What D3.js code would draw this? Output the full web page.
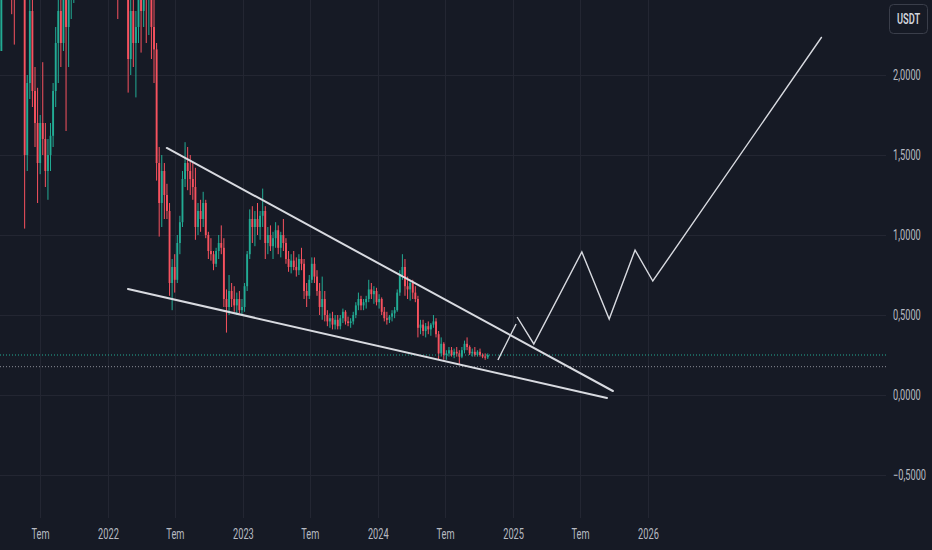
<!DOCTYPE html>
<html><head><meta charset="utf-8">
<script src="https://cdn.jsdelivr.net/npm/d3@7"></script>
<style>
html,body{margin:0;padding:0;background:#161a25;overflow:hidden}
svg{display:block}
</style></head>
<body>
<svg id="c" width="932" height="550"></svg>
<script>
// ---------- DATA ----------
// weekly candles, first week starting 2021-03-08; open = previous close
const firstWeek = "2021-03-08";
const firstOpen = 2.45;
const closes = [2.15,2.5,2.85,3.0,2.9,2.6,2.5,2.85,3.1,3.0,
1.5,1.95,2.4,1.9,1.7,1.45,1.7,1.6,1.4,1.5,
1.62,1.9,2.2,2.4,2.2,2.6,2.3,2.55,2.7,2.9,
3.2,3.4,3.5,3.1,3.3,3.7,3.6,3.2,3.0,3.1,
2.9,2.8,2.7,2.8,2.75,2.6,2.55,2.8,2.7,2.6,
2.1,2.4,2.2,2.3,2.6,2.4,2.65,2.5,2.6,2.3,
2.16,1.45,1.2,1.4,1.25,1.15,0.7,0.8,0.72,0.95,
1.08,1.35,1.45,1.4,1.35,1.3,1.05,1.15,1.1,1.2,
1.0,0.9,0.88,0.82,0.9,0.95,0.92,0.6,0.55,0.65,
0.6,0.56,0.6,0.53,0.55,0.68,0.88,1.1,1.05,1.1,
1.05,1.12,1.15,0.95,1.0,0.93,0.98,1.03,0.92,1.0,
0.95,0.85,0.8,0.84,0.8,0.78,0.85,0.82,0.65,0.62,
0.72,0.82,0.74,0.65,0.55,0.6,0.5,0.46,0.48,0.44,
0.47,0.43,0.48,0.52,0.46,0.45,0.46,0.5,0.56,0.6,
0.56,0.58,0.6,0.66,0.63,0.65,0.58,0.6,0.52,0.48,
0.47,0.49,0.51,0.53,0.64,0.75,0.8,0.68,0.66,0.7,
0.64,0.6,0.42,0.44,0.4,0.43,0.41,0.44,0.46,0.38,
0.26,0.32,0.25,0.26,0.28,0.25,0.27,0.26,0.24,0.28,
0.32,0.3,0.26,0.27,0.25,0.27,0.25,0.24,0.235,0.25];
const highs = [2.75,2.6,3.0,3.2,3.3,3.1,2.85,3.0,3.3,3.4,
3.1,2.0,2.6,2.55,2.05,1.92,1.75,2.08,1.7,1.6,
1.7,1.95,2.3,2.55,2.6,2.7,2.75,2.7,2.9,3.0,
3.3,3.6,3.8,3.7,3.4,3.9,4.1,3.8,3.5,3.3,
3.4,3.1,3.0,2.95,3.0,2.9,2.8,2.9,3.0,2.85,
2.75,2.55,2.6,2.4,2.8,2.75,2.8,2.9,2.8,2.7,
2.5,2.2,1.55,1.5,1.45,1.32,1.2,0.85,0.88,1.0,
1.12,1.4,1.58,1.55,1.5,1.45,1.42,1.2,1.22,1.27,
1.22,1.02,0.98,0.9,0.92,1.0,1.06,0.98,0.66,0.75,
0.7,0.68,0.64,0.65,0.6,0.7,0.9,1.16,1.18,1.15,
1.2,1.15,1.29,1.18,1.05,1.06,1.02,1.08,1.06,1.02,
1.1,0.98,0.9,0.88,0.9,0.86,0.88,0.92,0.85,0.7,
0.75,0.86,0.86,0.78,0.7,0.74,0.65,0.53,0.51,0.52,
0.5,0.5,0.5,0.54,0.53,0.49,0.48,0.52,0.58,0.64,
0.62,0.6,0.62,0.72,0.7,0.68,0.67,0.63,0.61,0.55,
0.52,0.5,0.53,0.55,0.66,0.78,0.88,0.85,0.74,0.72,
0.72,0.68,0.62,0.47,0.47,0.45,0.46,0.45,0.5,0.48,
0.4,0.36,0.33,0.28,0.3,0.3,0.29,0.3,0.28,0.3,
0.34,0.36,0.31,0.29,0.3,0.28,0.29,0.26,0.26,0.26];
const lows = [2.03,2.18,2.48,2.7,2.75,2.38,2.19,2.48,2.75,2.8,
1.04,1.4,1.85,1.8,1.55,1.2,1.38,1.5,1.3,1.22,
1.4,1.55,1.8,1.95,2.05,2.15,1.65,2.05,2.35,2.45,
2.75,3.0,3.2,3.0,2.8,3.2,3.4,3.1,2.9,2.75,
2.8,2.6,2.55,2.52,2.6,2.5,2.35,2.5,2.6,2.5,
1.89,2.0,2.05,1.86,2.2,2.14,2.3,2.2,2.25,2.1,
1.95,1.34,0.99,1.05,1.1,1.1,0.62,0.53,0.64,0.7,
0.88,1.05,1.3,1.28,1.25,1.22,0.97,1.0,1.02,1.05,
0.98,0.85,0.84,0.78,0.8,0.85,0.88,0.55,0.39,0.5,
0.55,0.52,0.5,0.51,0.5,0.52,0.65,0.85,0.95,0.93,
1.0,0.97,1.05,0.85,0.88,0.9,0.85,0.92,0.88,0.86,
0.9,0.82,0.77,0.76,0.78,0.74,0.75,0.78,0.6,0.55,
0.6,0.7,0.7,0.62,0.5,0.47,0.46,0.43,0.42,0.41,
0.41,0.41,0.41,0.45,0.44,0.43,0.42,0.44,0.48,0.53,
0.53,0.53,0.54,0.58,0.6,0.57,0.56,0.54,0.5,0.46,
0.44,0.45,0.46,0.48,0.52,0.62,0.72,0.62,0.6,0.59,
0.6,0.58,0.36,0.38,0.37,0.36,0.38,0.37,0.42,0.36,
0.22,0.24,0.22,0.22,0.24,0.24,0.23,0.24,0.19,0.23,
0.26,0.28,0.25,0.24,0.24,0.24,0.24,0.23,0.22,0.225];

// drawn lines: [date, value]
const upperTrend = [["2022-06-09",1.544],["2025-09-28",0.025]];
const lowerTrend = [["2022-02-24",0.6625],["2025-09-12",-0.019]];
const projStart  = [["2024-11-21",0.219],["2025-01-09",0.444]];
const projPath   = [["2025-01-12",0.4875],["2025-02-26",0.319],["2025-07-06",0.894],["2025-09-18",0.475],
                    ["2025-11-27",0.906],["2026-01-14",0.7125],["2027-04-16",2.2375]];
const otherLevel = 0.177;

const xTickDates  = ["2021-07-01","2022-01-01","2022-07-01","2023-01-01","2023-07-01","2024-01-01","2024-07-01","2025-01-01","2025-07-01","2026-01-01"];
const xTickLabels = ["Tem","2022","Tem","2023","Tem","2024","Tem","2025","Tem","2026"];
const yTicks = [-0.5,0,0.5,1,1.5,2];
const currency = "USDT";

// ---------- CHART ----------
const W = 932, H = 550, plotR = 886, plotB = 518;
const bg = "#161a25", grid = "#232632", txt = "#b7bac2";
const upC = "#22ab94", dnC = "#f7525f", lineC = "#d8dae0";
const P = s => new Date(s + "T00:00:00Z");

const x = d3.scaleUtc().domain([P("2022-01-01"), P("2026-01-01")]).range([108, 648]);
const y = d3.scaleLinear().domain([0, 2]).range([395, 75]);

const svg = d3.select("#c");
svg.append("rect").attr("width", W).attr("height", H).attr("fill", bg);

svg.append("defs").append("clipPath").attr("id", "clip")
  .append("rect").attr("x", 0).attr("y", 0).attr("width", plotR).attr("height", plotB);

// grid
const g = svg.append("g");
g.selectAll("line.v").data(xTickDates).join("line")
  .attr("x1", d => Math.round(x(P(d))) + 0.5).attr("x2", d => Math.round(x(P(d))) + 0.5)
  .attr("y1", 0).attr("y2", plotB).attr("stroke", grid).attr("stroke-width", 1);
g.selectAll("line.h").data(yTicks).join("line")
  .attr("x1", 0).attr("x2", plotR)
  .attr("y1", d => Math.round(y(d)) + 0.5).attr("y2", d => Math.round(y(d)) + 0.5)
  .attr("stroke", grid).attr("stroke-width", 1);

// candles
const weekMs = 7 * 864e5;
const start = P(firstWeek).getTime();
const candles = closes.map((c, i) => ({
  t: new Date(start + i * weekMs + weekMs / 2),
  o: i === 0 ? firstOpen : closes[i - 1], h: highs[i], l: lows[i], c
}));
const pxPerWeek = x(new Date(start + weekMs)) - x(new Date(start));
const bw = Math.max(1, pxPerWeek * 0.72);

const cg = svg.append("g").attr("clip-path", "url(#clip)");
cg.selectAll("line.wick").data(candles).join("line")
  .attr("x1", d => x(d.t)).attr("x2", d => x(d.t))
  .attr("y1", d => y(d.h)).attr("y2", d => y(d.l))
  .attr("stroke", d => d.c >= d.o ? upC : dnC).attr("stroke-width", 1);
cg.selectAll("rect.body").data(candles).join("rect")
  .attr("x", d => x(d.t) - bw / 2).attr("width", bw)
  .attr("y", d => y(Math.max(d.o, d.c)))
  .attr("height", d => Math.max(1, Math.abs(y(d.o) - y(d.c))))
  .attr("fill", d => d.c >= d.o ? upC : dnC);

// price level lines
const last = closes[closes.length - 1];
cg.append("line").attr("x1", 0).attr("x2", plotR)
  .attr("y1", y(last)).attr("y2", y(last))
  .attr("stroke", upC).attr("stroke-width", 1).attr("stroke-dasharray", "1,2");
cg.append("line").attr("x1", 0).attr("x2", plotR)
  .attr("y1", y(otherLevel)).attr("y2", y(otherLevel))
  .attr("stroke", "#8a8d96").attr("stroke-width", 1).attr("stroke-dasharray", "1,2");

// drawings
const line = d3.line().x(d => x(P(d[0]))).y(d => y(d[1]));
[upperTrend, lowerTrend].forEach(pts => {
  cg.append("path").attr("d", line(pts)).attr("fill", "none")
    .attr("stroke", lineC).attr("stroke-width", 2).attr("stroke-linecap", "round");
});
[projStart, projPath].forEach(pts => {
  cg.append("path").attr("d", line(pts)).attr("fill", "none")
    .attr("stroke", lineC).attr("stroke-width", 1.4).attr("stroke-linejoin", "miter");
});

// axes
const font = "Roboto, 'Noto Sans', sans-serif";
const sx = 0.66;
const fmt = v => (v < 0 ? "\u2212" : "") + d3.format(".4f")(Math.abs(v)).replace(".", ",");

const xa = svg.append("g").attr("transform", `translate(0,${plotB})`)
  .call(d3.axisBottom(x).tickValues(xTickDates.map(P))
    .tickFormat((d, i) => xTickLabels[i]).tickSize(0).tickPadding(11));
xa.select(".domain").remove();
xa.selectAll("text").attr("fill", txt).attr("font-family", font).attr("font-size", 14)
  .attr("transform", `scale(${sx},1)`);

const ya = svg.append("g").attr("transform", `translate(${plotR},0)`)
  .call(d3.axisRight(y).tickValues(yTicks).tickFormat(fmt).tickSize(0).tickPadding(0));
ya.select(".domain").remove();
ya.selectAll("text").attr("fill", txt).attr("font-family", font).attr("font-size", 14)
  .attr("x", 0).attr("transform", `translate(7,0) scale(${sx},1)`);

// currency box
svg.append("rect").attr("x", 889.5).attr("y", 4.5).attr("width", 38).attr("height", 29).attr("rx", 4)
  .attr("fill", bg).attr("stroke", "#3a3e4a").attr("stroke-width", 1);
svg.append("text").attr("transform", `translate(908.5,24) scale(${sx},1)`)
  .attr("text-anchor", "middle").attr("fill", "#d1d4dc").attr("font-family", font)
  .attr("font-size", 14).attr("font-weight", 600).text(currency);
</script>
</body></html>
